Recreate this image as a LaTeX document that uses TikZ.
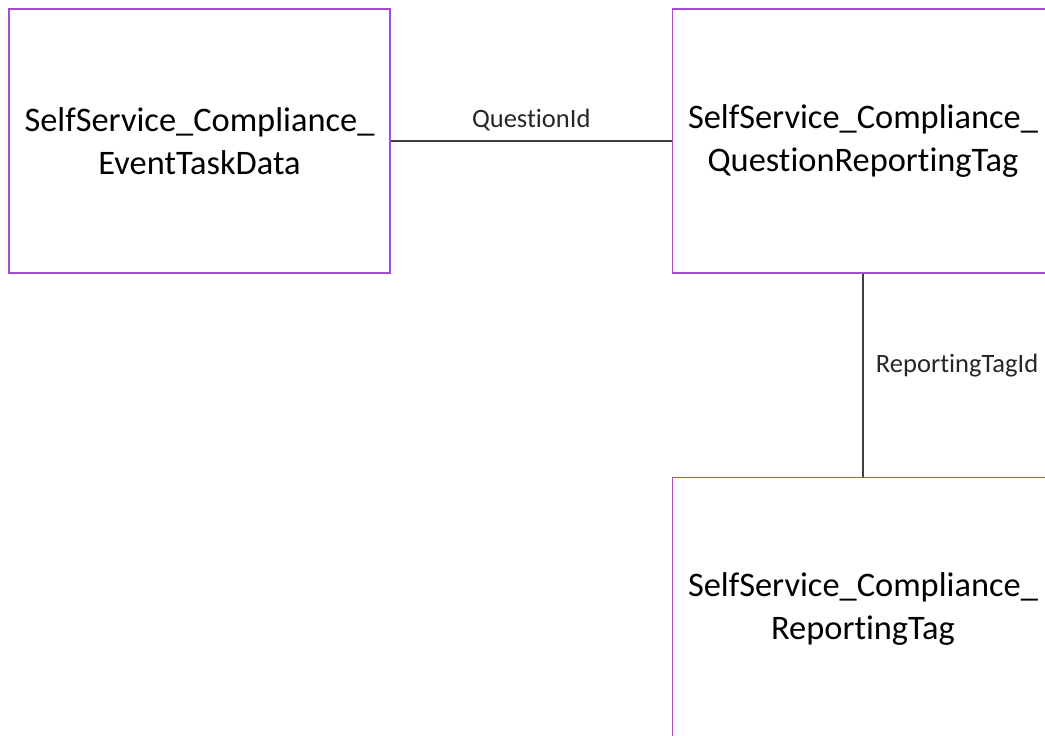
\documentclass[tikz,border=0pt]{standalone}
\usepackage{fontspec}
\setmainfont{Carlito}[Ligatures=NoCommon]
\usepackage{tikz}
\usetikzlibrary{positioning}

\definecolor{boxpurple}{HTML}{A64CD2}
\definecolor{linegray}{HTML}{404040}

\begin{document}
\begin{tikzpicture}[x=1pt, y=-1pt,
    box/.style={rectangle, draw=boxpurple, line width=1.5pt, minimum width=381pt, minimum height=264pt, align=center, font=\fontsize{34.4}{43}\selectfont, inner sep=0pt},
    link/.style={draw=linegray, line width=1.3pt},
    lbl/.style={font=\fontsize{26.5}{30}\selectfont, text=black!85}]
    \useasboundingbox (0,0) rectangle (1045,736);

    \node[box] (evt) at (199.5,141) {SelfService\_Compliance\_\\EventTaskData};
    \node[box, right=281pt of evt] (qrt) {SelfService\_Compliance\_\\QuestionReportingTag};
    \node[box, below=203pt of qrt] (rt) {SelfService\_Compliance\_\\ReportingTag};

    \draw[link] (evt.east) -- node[lbl, above=6pt] (qid) {QuestionId} (qrt.west);
    \draw[link] (qrt.south) -- node[lbl, right=9pt, yshift=10pt] (rtid) {ReportingTagId} (rt.north);

\end{tikzpicture}
\end{document}
